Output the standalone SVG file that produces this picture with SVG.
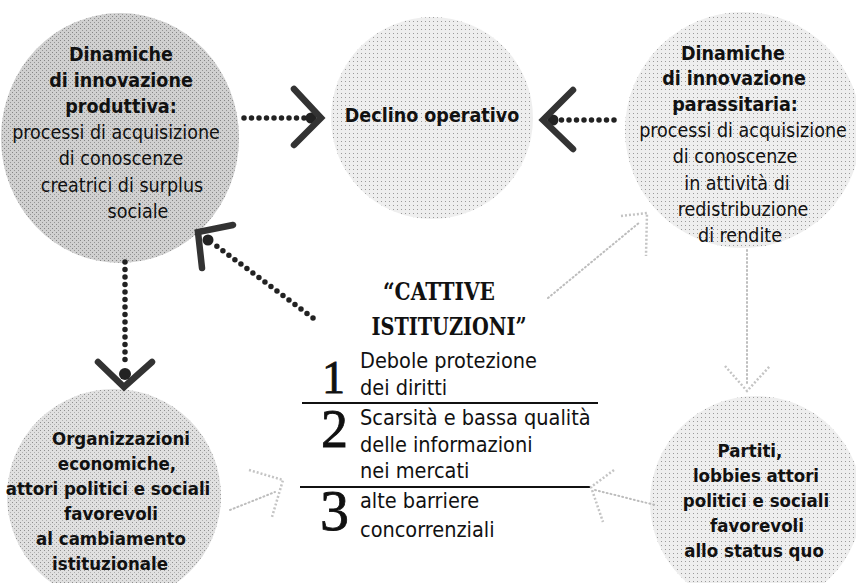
<svg xmlns="http://www.w3.org/2000/svg" width="856" height="583" viewBox="0 0 856 583">
<defs>
<pattern id="stipA" width="4" height="4" patternUnits="userSpaceOnUse">
<rect width="4" height="4" fill="#d0d0d0"/>
<rect x="0" y="0" width="1" height="1" fill="#858585"/>
<rect x="2" y="2" width="1" height="1" fill="#959595"/>
</pattern>
<pattern id="stipB" width="4" height="4" patternUnits="userSpaceOnUse">
<rect width="4" height="4" fill="#eeeeee"/>
<rect x="1" y="1" width="1" height="1" fill="#9a9a9a"/>
</pattern>
<pattern id="stipC" width="4" height="4" patternUnits="userSpaceOnUse">
<rect width="4" height="4" fill="#e0e0e0"/>
<rect x="0" y="2" width="1" height="1" fill="#8f8f8f"/>
<rect x="2" y="0" width="1" height="1" fill="#b0b0b0"/>
</pattern>
</defs>
<style>
.t{font-family:"DejaVu Sans Condensed","DejaVu Sans",sans-serif;font-stretch:condensed;fill:#111;text-anchor:middle;font-size:19.5px}
.b{font-weight:bold}
.s{font-size:18.5px}
.h{font-family:"DejaVu Serif",serif;font-weight:bold;font-size:24px;fill:#111;text-anchor:middle}
.n{font-family:"Liberation Serif",serif;fill:#111;stroke:#111;stroke-width:0.8}
.it{font-family:"DejaVu Sans Condensed","DejaVu Sans",sans-serif;font-stretch:condensed;fill:#111;font-size:21.5px}
.dots{fill:none;stroke:#222;stroke-width:5.5;stroke-linecap:round;stroke-dasharray:0 7.5}
.chev{fill:none;stroke:#333;stroke-width:6.5;stroke-linecap:round;stroke-linejoin:miter}
.fdots{fill:none;stroke:#bdbdbd;stroke-width:2;stroke-linecap:round;stroke-dasharray:1 3}
.fchev{fill:none;stroke:#c4c4c4;stroke-width:2.5;stroke-dasharray:2 2}
.rule{stroke:#111;stroke-width:2}
</style>

<g id="node-produttiva">
<ellipse cx="120" cy="138" rx="119" ry="125" fill="url(#stipA)"/>
<text class="t b" x="121" y="61">Dinamiche</text>
<text class="t b" x="121" y="87">di innovazione</text>
<text class="t b" x="121" y="113">produttiva:</text>
<text class="t" x="116" y="139">processi di acquisizione</text>
<text class="t" x="121" y="165">di conoscenze</text>
<text class="t" x="122" y="192">creatrici di surplus</text>
<text class="t" x="138" y="218">sociale</text>
</g>

<g id="node-declino">
<circle cx="432" cy="118" r="101" fill="url(#stipB)"/>
<text class="t b" x="432" y="122">Declino operativo</text>
</g>

<g id="node-parassitaria">
<circle cx="743" cy="130" r="118" fill="url(#stipB)"/>
<text class="t b" x="733" y="60">Dinamiche</text>
<text class="t b" x="734" y="85">di innovazione</text>
<text class="t b" x="735" y="111">parassitaria:</text>
<text class="t" x="743" y="137">processi di acquisizione</text>
<text class="t" x="735" y="163">di conoscenze</text>
<text class="t" x="737" y="190">in attività di</text>
<text class="t" x="743" y="216">redistribuzione</text>
<text class="t" x="740" y="242">di rendite</text>
</g>

<g id="node-organizzazioni">
<circle cx="114" cy="496" r="107" fill="url(#stipC)"/>
<text class="t b s" x="121" y="445">Organizzazioni</text>
<text class="t b s" x="117" y="470">economiche,</text>
<text class="t b s" x="108" y="495">attori politici e sociali</text>
<text class="t b s" x="111" y="520">favorevoli</text>
<text class="t b s" x="111" y="545">al cambiamento</text>
<text class="t b s" x="110" y="570">istituzionale</text>
</g>

<g id="node-partiti">
<circle cx="756" cy="502" r="106" fill="url(#stipB)"/>
<text class="t b s" x="750" y="457">Partiti,</text>
<text class="t b s" x="756" y="482">lobbies attori</text>
<text class="t b s" x="756" y="507">politici e sociali</text>
<text class="t b s" x="757" y="532">favorevoli</text>
<text class="t b s" x="754" y="557">allo status quo</text>
</g>

<g id="node-cattive">
<text class="h" x="439" y="300" textLength="112" lengthAdjust="spacingAndGlyphs">“CATTIVE</text>
<text class="h" x="449" y="335" textLength="155" lengthAdjust="spacingAndGlyphs">ISTITUZIONI”</text>
<text class="n" x="322" y="393" font-size="46">1</text>
<text class="it" x="360" y="368">Debole protezione</text>
<text class="it" x="360" y="395">dei diritti</text>
<line class="rule" x1="302" y1="403" x2="598" y2="403"/>
<text class="n" x="321" y="447" font-size="54">2</text>
<text class="it" x="360" y="425">Scarsità e bassa qualità</text>
<text class="it" x="360" y="452">delle informazioni</text>
<text class="it" x="360" y="478">nei mercati</text>
<line class="rule" x1="300" y1="487" x2="590" y2="487"/>
<text class="n" x="320" y="530" font-size="58">3</text>
<text class="it" x="360" y="508">alte barriere</text>
<text class="it" x="360" y="537">concorrenziali</text>
</g>

<g id="connectors">
<path class="dots" d="M244 118 L306 118"/>
<circle cx="311" cy="118" r="5.5" fill="#222"/>
<path class="chev" d="M294 89 L321 118 L294 145"/>

<path class="dots" d="M614 120 L558 120"/>
<circle cx="553" cy="120" r="5.5" fill="#222"/>
<path class="chev" d="M573 90 L543 120 L573 149"/>

<path class="dots" d="M125 262 L125 366"/>
<circle cx="125" cy="374" r="6" fill="#222"/>
<path class="chev" d="M98 362 L124 387 L152 362"/>

<path class="dots" d="M313 318 L214 244"/>
<circle cx="208" cy="240" r="5.5" fill="#222"/>
<path class="chev" d="M233 225 L198 232 L202 268"/>

<path class="fdots" d="M747 250 L747 385"/>
<path class="fchev" d="M725 366 L747 391 L770 366"/>

<path class="fdots" d="M548 298 L640 222"/>
<path class="fchev" d="M621 216 L647 213 L646 256"/>

<path class="fdots" d="M595 490 L655 505"/>
<path class="fchev" d="M614 470 L591 487 L603 522"/>

<path class="fdots" d="M230 510 L275 492"/>
<path class="fchev" d="M249 470 L283 480 L272 517"/>
</g>
</svg>
